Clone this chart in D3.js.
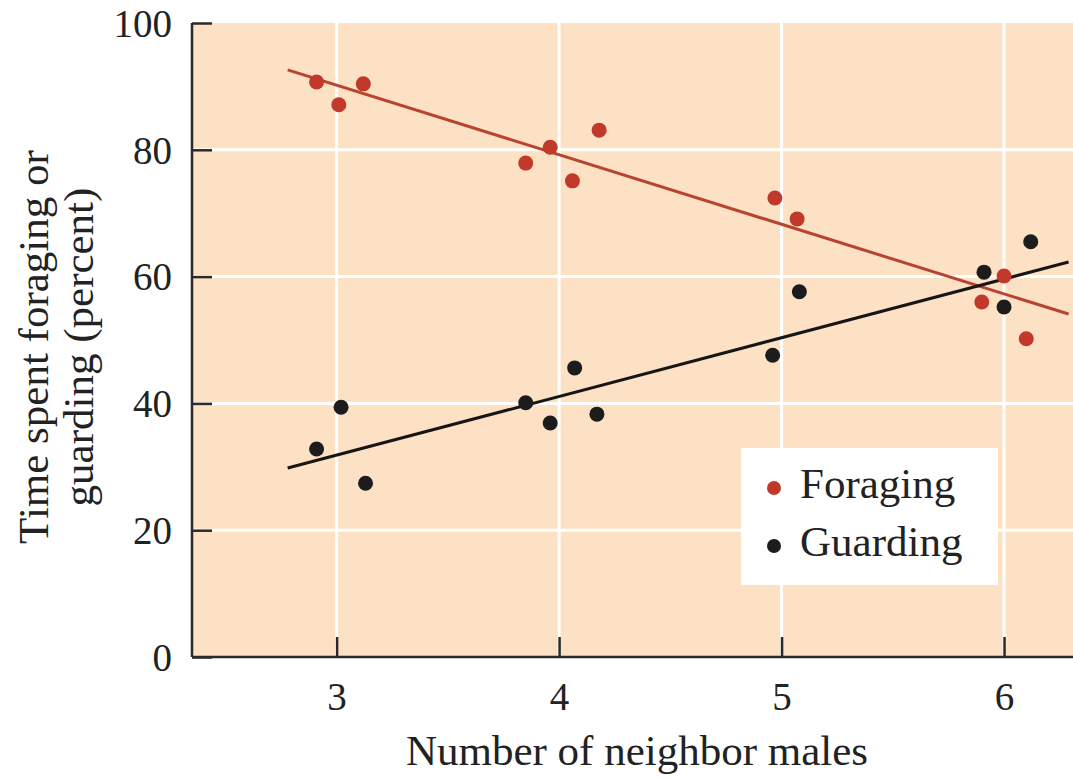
<!DOCTYPE html>
<html>
<head>
<meta charset="utf-8">
<script src="https://cdn.jsdelivr.net/npm/d3@7"></script>
<style>
  html, body { margin: 0; padding: 0; background: #fff; }
  svg { display: block; }
  text { font-family: "Liberation Serif", "DejaVu Serif", serif; fill: #222; }
</style>
</head>
<body>
<svg id="chart" width="1073" height="780"></svg>
<script>
// ---- data ----
const foragingX = [2.91, 3.01, 3.12, 3.85, 3.96, 4.06, 4.18, 4.97, 5.07, 5.90, 6.00, 6.10];
const foragingY = [90.7, 87.1, 90.4, 77.9, 80.4, 75.1, 83.1, 72.4, 69.1, 56.0, 60.1, 50.2];
const guardingX = [2.91, 3.02, 3.13, 3.85, 3.96, 4.07, 4.17, 4.96, 5.08, 5.91, 6.00, 6.12];
const guardingY = [32.8, 39.4, 27.4, 40.1, 36.9, 45.6, 38.3, 47.6, 57.6, 60.7, 55.2, 65.5];
const foragingFit = [[2.78, 92.6], [6.29, 54.1]];
const guardingFit = [[2.78, 29.8], [6.29, 62.3]];
const xTicks = [3, 4, 5, 6];
const yTicks = [0, 20, 40, 60, 80, 100];
const yGrid = [20, 40, 60, 80];
const seriesNames = ["Foraging", "Guarding"];

// ---- layout ----
(function () {
const svg = d3.select("#chart");
const pL = 192, pR = 1073, pT = 23, pB = 657;
const x = d3.scaleLinear().domain([2.35, 6.31]).range([pL, pR]);
const y = d3.scaleLinear().domain([0, 100]).range([pB, pT]);

const colors = { Foraging: "#c0392b", Guarding: "#1c1c1c" };
const lineColors = { Foraging: "#b8432f", Guarding: "#161616" };

// background
svg.append("rect")
  .attr("x", pL).attr("y", pT)
  .attr("width", pR - pL).attr("height", pB - pT)
  .attr("fill", "#fde1c5");

// grid
svg.append("g").selectAll("line").data(xTicks).join("line")
  .attr("x1", d => x(d)).attr("x2", d => x(d))
  .attr("y1", pT).attr("y2", pB)
  .attr("stroke", "#fff").attr("stroke-width", 3);
svg.append("g").selectAll("line").data(yGrid).join("line")
  .attr("x1", pL).attr("x2", pR)
  .attr("y1", d => y(d)).attr("y2", d => y(d))
  .attr("stroke", "#fff").attr("stroke-width", 3);

// axes
const yAxis = d3.axisLeft(y).tickValues(yTicks).tickFormat(d3.format("d"))
  .tickSizeInner(-20).tickSizeOuter(0).tickPadding(20);
const gy = svg.append("g").attr("transform", `translate(${pL},0)`).call(yAxis);
gy.select(".domain").attr("stroke", "#2a2a2a").attr("stroke-width", 2.5)
  .attr("d", `M0,${pT}V${pB}`);
gy.selectAll(".tick line").attr("stroke", "#2a2a2a").attr("stroke-width", 2.5);
gy.selectAll(".tick text").attr("font-size", 39).attr("fill", "#222")
  .attr("font-family", "Liberation Serif, serif").attr("dy", "0.34em");

const xAxis = d3.axisBottom(x).tickValues(xTicks).tickFormat(d3.format("d"))
  .tickSizeInner(-20).tickSizeOuter(0).tickPadding(25);
const gx = svg.append("g").attr("transform", `translate(0,${pB})`).call(xAxis);
gx.select(".domain").attr("stroke", "#2a2a2a").attr("stroke-width", 2.5)
  .attr("d", `M${pL},0H${pR}`);
gx.selectAll(".tick line").attr("stroke", "#2a2a2a").attr("stroke-width", 2.5);
gx.selectAll(".tick text").attr("font-size", 39).attr("fill", "#222")
  .attr("font-family", "Liberation Serif, serif").attr("dy", "0.71em");

// fit lines
const lineGen = d3.line().x(d => x(d[0])).y(d => y(d[1]));
svg.append("path").attr("d", lineGen(foragingFit)).attr("fill", "none")
  .attr("stroke", lineColors.Foraging).attr("stroke-width", 3);
svg.append("path").attr("d", lineGen(guardingFit)).attr("fill", "none")
  .attr("stroke", lineColors.Guarding).attr("stroke-width", 3);

// points
const fPts = foragingX.map((v, i) => [v, foragingY[i]]);
const gPts = guardingX.map((v, i) => [v, guardingY[i]]);
svg.append("g").selectAll("circle").data(fPts).join("circle")
  .attr("cx", d => x(d[0])).attr("cy", d => y(d[1])).attr("r", 7.5)
  .attr("fill", colors.Foraging);
svg.append("g").selectAll("circle").data(gPts).join("circle")
  .attr("cx", d => x(d[0])).attr("cy", d => y(d[1])).attr("r", 7.5)
  .attr("fill", colors.Guarding);

// legend
const lg = svg.append("g");
lg.append("rect").attr("x", 741).attr("y", 448).attr("width", 257).attr("height", 137).attr("fill", "#fff");
seriesNames.forEach((name, i) => {
  const cy = 488 + i * 58;
  lg.append("circle").attr("cx", 774).attr("cy", cy).attr("r", 7).attr("fill", colors[name]);
  lg.append("text").attr("x", 800).attr("y", cy + 10).attr("font-size", 43).text(name);
});

// axis titles
svg.append("text").attr("x", (403 + 871) / 2).attr("y", 765)
  .attr("text-anchor", "middle").attr("font-size", 43).text("Number of neighbor males");
const yt = svg.append("text").attr("text-anchor", "middle").attr("font-size", 43)
  .attr("transform", "translate(48,347) rotate(-90)");
yt.append("tspan").attr("x", 0).attr("dy", 0).text("Time spent foraging or");
yt.append("tspan").attr("x", 0).attr("dy", 45).text("guarding (percent)");
})();
</script>
</body>
</html>
